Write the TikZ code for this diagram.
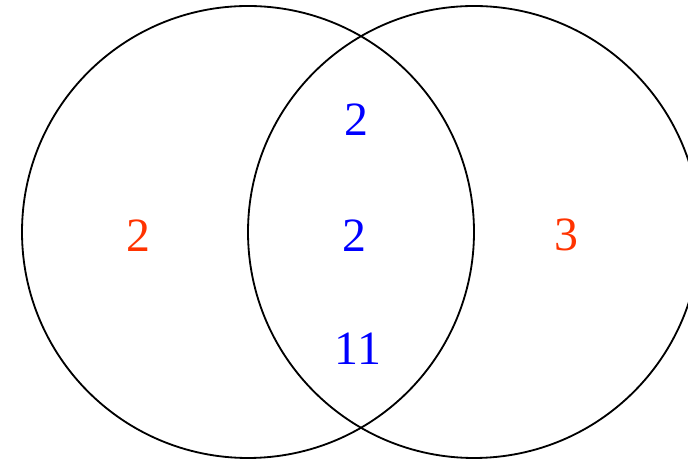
\documentclass[tikz,border=0pt]{standalone}
\usepackage{fontspec}
\setmainfont{Liberation Serif}
\usepackage{xcolor}
\definecolor{onlycol}{RGB}{255,51,0}
\definecolor{bothcol}{RGB}{0,0,255}

\begin{document}
\begin{tikzpicture}[scale=1,
  ring/.style={line width=1.3pt},
  count/.style={font=\fontsize{34}{40}\selectfont, inner sep=0pt}]
\useasboundingbox (0,0) rectangle (17.2,11.5);
\draw[ring] (6.2,5.7) circle (5.65);
\draw[ring] (11.85,5.7) circle (5.65);
\node[count, text=onlycol] (left) at (3.45,5.62) {2};
\node[count, text=onlycol] (right) at (14.15,5.62) {3};
\node[count, text=bothcol] (top) at (8.92,8.5) {2};
\node[count, text=bothcol] (mid) at (8.85,5.62) {2};
\node[count, text=bothcol] (low) at (8.95,2.78) {11};
\end{tikzpicture}
\end{document}
